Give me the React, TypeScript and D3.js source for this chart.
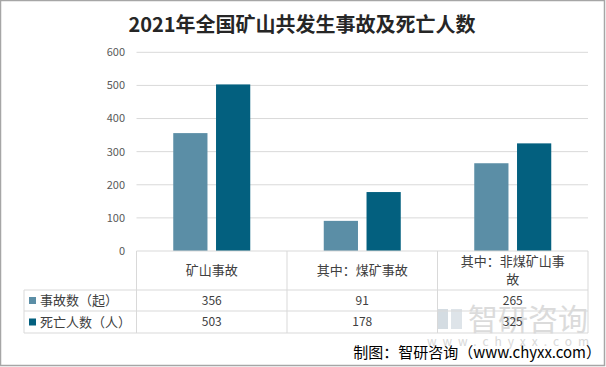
import React, { useEffect, useRef } from 'react';
import * as d3 from 'd3';

const categories = ['矿山事故', '其中：煤矿事故', '其中：非煤矿山事故'];
const categoryLines = [['矿山事故'], ['其中：煤矿事故'], ['其中：非煤矿山事', '故']];
const seriesNames = ['事故数（起）', '死亡人数（人）'];
const accidents = [356, 91, 265];
const deaths = [503, 178, 325];
const yTicks = [0, 100, 200, 300, 400, 500, 600];

const colors = ['#5b8ea6', '#03607f'];
const FONT = '"Noto Sans CJK SC", "Microsoft YaHei", sans-serif';

const W = 606;
const H = 367;

const App = () => {
    const svgRef = useRef(null);

    useEffect(() => {
        const svg = d3.select(svgRef.current);
        svg.selectAll('*').remove();

        const left = 136.5;
        const right = 588;
        const top = 52.3;
        const bottom = 251;
        const tableLeft = 24;
        const rowY = [bottom, 290, 311, 333];

        // frame
        svg.append('rect')
            .attr('x', 0.5).attr('y', 0.5)
            .attr('width', W - 2).attr('height', H - 2)
            .attr('fill', '#fff')
            .attr('stroke', '#a6a6a6')
            .attr('stroke-width', 1.5);

        // title
        svg.append('text')
            .attr('x', 302).attr('y', 32)
            .attr('text-anchor', 'middle')
            .style('font-family', FONT)
            .style('font-size', '20px')
            .style('font-weight', 'bold')
            .style('fill', '#262626')
            .text('2021年全国矿山共发生事故及死亡人数');

        const y = d3.scaleLinear().domain([0, 600]).range([bottom, top]);
        const x = d3.scaleBand().domain(categories).range([left, right]).padding(0);
        const xs = d3.scaleBand().domain(seriesNames).range([-38.5, 38.5]).paddingInner(0.2);

        // grid + y labels
        const grid = svg.append('g');
        yTicks.forEach((t) => {
            if (t > 0) {
                grid.append('line')
                    .attr('x1', left).attr('x2', right)
                    .attr('y1', y(t)).attr('y2', y(t))
                    .attr('stroke', '#d9d9d9').attr('stroke-width', 1);
            }
            grid.append('text')
                .attr('x', 125).attr('y', y(t))
                .attr('dy', '0.35em')
                .attr('text-anchor', 'end')
                .style('font-family', FONT)
                .style('font-size', '11px')
                .style('fill', '#595959')
                .text(t);
        });

        // bars
        const seriesData = [accidents, deaths];
        seriesData.forEach((vals, si) => {
            svg.append('g')
                .selectAll('rect')
                .data(vals)
                .enter()
                .append('rect')
                .attr('x', (d, i) => x(categories[i]) + x.bandwidth() / 2 + xs(seriesNames[si]))
                .attr('y', (d) => y(d))
                .attr('width', xs.bandwidth())
                .attr('height', (d) => bottom - y(d))
                .attr('fill', colors[si]);
        });

        // watermark
        const wm = svg.append('g').style('pointer-events', 'none');
        wm.append('rect').attr('x', 437).attr('y', 309).attr('width', 11).attr('height', 20).attr('fill', '#c9d3db').attr('opacity', 0.8);
        wm.append('rect').attr('x', 451).attr('y', 309).attr('width', 11).attr('height', 20).attr('fill', '#d6dde3').attr('opacity', 0.8);
        wm.append('text')
            .attr('x', 528).attr('y', 330)
            .attr('text-anchor', 'middle')
            .style('font-family', FONT)
            .style('font-size', '30px')
            .style('fill', '#d0d0d0')
            .style('opacity', 0.75)
            .text('智研咨询');
        wm.append('text')
            .attr('x', 511).attr('y', 346)
            .attr('text-anchor', 'middle')
            .style('font-family', FONT)
            .style('font-size', '12px')
            .style('letter-spacing', '6px')
            .style('fill', '#d0d0d0')
            .style('opacity', 0.8)
            .text('www.chyxx.com');

        // table lines
        const tbl = svg.append('g').attr('stroke', '#d9d9d9').attr('stroke-width', 1);
        tbl.append('line').attr('x1', left).attr('x2', right).attr('y1', bottom).attr('y2', bottom);
        rowY.slice(1).forEach((ry) => {
            tbl.append('line').attr('x1', tableLeft).attr('x2', right).attr('y1', ry).attr('y2', ry);
        });
        tbl.append('line').attr('x1', tableLeft).attr('x2', tableLeft).attr('y1', rowY[1]).attr('y2', rowY[3]);
        categories.forEach((c) => {
            tbl.append('line').attr('x1', x(c)).attr('x2', x(c)).attr('y1', bottom).attr('y2', rowY[3]);
        });
        tbl.append('line').attr('x1', right).attr('x2', right).attr('y1', bottom).attr('y2', rowY[3]);

        // header text
        categories.forEach((c, i) => {
            const lines = categoryLines[i];
            const cy = (rowY[0] + rowY[1]) / 2;
            lines.forEach((ln, li) => {
                svg.append('text')
                    .attr('x', x(c) + x.bandwidth() / 2)
                    .attr('y', cy + (li - (lines.length - 1) / 2) * 18)
                    .attr('dy', '0.35em')
                    .attr('text-anchor', 'middle')
                    .style('font-family', FONT)
                    .style('font-size', '13px')
                    .style('fill', '#404040')
                    .text(ln);
            });
        });

        // rows
        seriesData.forEach((vals, si) => {
            const cy = (rowY[si + 1] + rowY[si + 2]) / 2;
            svg.append('rect')
                .attr('x', 29).attr('y', cy - 3.5)
                .attr('width', 7).attr('height', 7)
                .attr('fill', colors[si]);
            svg.append('text')
                .attr('x', 40).attr('y', cy)
                .attr('dy', '0.35em')
                .style('font-family', FONT)
                .style('font-size', '13px')
                .style('fill', '#404040')
                .text(seriesNames[si]);
            vals.forEach((v, i) => {
                svg.append('text')
                    .attr('x', x(categories[i]) + x.bandwidth() / 2)
                    .attr('y', cy)
                    .attr('dy', '0.35em')
                    .attr('text-anchor', 'middle')
                    .style('font-family', FONT)
                    .style('font-size', '12px')
                    .style('fill', '#404040')
                    .text(v);
            });
        });

        // source
        svg.append('text')
            .attr('x', 601).attr('y', 358)
            .attr('text-anchor', 'end')
            .style('font-family', FONT)
            .style('font-size', '15px')
            .style('fill', '#000')
            .text('制图：智研咨询（www.chyxx.com）');
    }, []);

    return <svg ref={svgRef} width={W} height={H} style={{ position: 'absolute', left: 0, top: 0 }} />;
};

export default App;
